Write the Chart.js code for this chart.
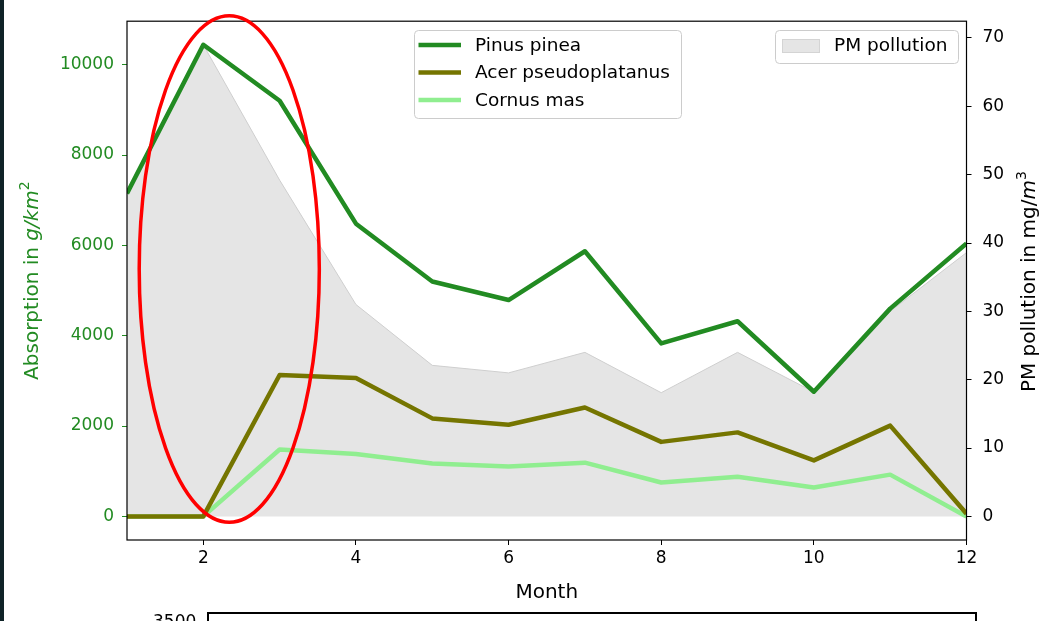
<!DOCTYPE html>
<html>
  <head>
    <meta charset="utf-8">
    <title>Absorption and PM pollution</title>
    <script src="https://cdn.jsdelivr.net/npm/chart.js@4.4.1/dist/chart.umd.min.js"></script>
    <style>
      body { margin: 0; background: #fff; overflow: hidden; font-family: 'DejaVu Sans', sans-serif; }
      #strip { position: absolute; left: 0; top: 0; width: 4px; height: 621px; background: #0f2327; }
      #wrap { position: absolute; left: 0; top: 0; width: 1056px; height: 612px; }
      #next { position: absolute; left: 207px; top: 612px; width: 770px; height: 40px; border: 2px solid #000; box-sizing: border-box; }
      #nextTick { position: absolute; left: 153px; top: 613px; font-size: 17px; line-height: 1; color: #000; }
    </style>
  </head>
  <body>
    <div id="strip"></div>
    <div id="wrap"><canvas id="chart"></canvas></div>
    <div id="nextTick">3500</div>
    <div id="next"></div>

    <script type="text/javascript">
    var months = [1, 2, 3, 4, 5, 6, 7, 8, 9, 10, 11, 12]
    var pinus_pinea = [7150, 10440, 9200, 6480, 5200, 4790, 5870, 3830, 4320, 2760, 4600, 6040]
    var acer_pseudoplatanus = [0, 0, 3130, 3065, 2170, 2030, 2410, 1650, 1860, 1240, 2010, 60]
    var cornus_mas = [0, 0, 1480, 1380, 1170, 1105, 1190, 750, 880, 640, 925, 0]
    var pm_pollution = [47.2, 69.0, 49.2, 31.0, 22.1, 21.0, 24.0, 18.1, 24.0, 18.2, 30.0, 38.6]

    var x_ticks = [2, 4, 6, 8, 10, 12]
    var absorption_ticks = [0, 2000, 4000, 6000, 8000, 10000]
    var pm_ticks = [0, 10, 20, 30, 40, 50, 60, 70]

    // red circle drawn around the February peak, in data units
    var highlight = { month: 2.34, value: 5475, monthRadius: 1.18, valueRadius: 5605 }

    var font = "'DejaVu Sans', sans-serif"
    var colors = ["#228b22", "#757500", "#90ee90", "#e5e5e5"]

    function points(values) {
      return months.map(function(m, i) { return { x: m, y: values[i] } })
    }

    // matplotlib style limits: 5% margin on each side, area fill starts at 0
    function limits(values) {
      var lo = Math.min.apply(null, values.concat([0])), hi = Math.max.apply(null, values)
      var pad = (hi - lo) * 0.05
      return [lo - pad, hi + pad]
    }
    var absLim = limits(pinus_pinea.concat(acer_pseudoplatanus, cornus_mas))
    var pmLim = limits(pm_pollution)

    function lineSet(label, data, color) {
      return {
        label: label,
        data: points(data),
        borderColor: color,
        backgroundColor: color,
        borderWidth: 4.5,
        pointRadius: 0,
        tension: 0,
        borderJoinStyle: 'round',
        yAxisID: 'y'
      }
    }

    function drawRich(ctx, parts, cx, cy, color) {
      ctx.save()
      ctx.translate(cx, cy)
      ctx.rotate(-Math.PI / 2)
      ctx.fillStyle = color
      ctx.textBaseline = 'middle'
      ctx.textAlign = 'left'
      var total = 0
      parts.forEach(function(p) {
        ctx.font = (p.italic ? 'oblique ' : '') + (p.sup ? 14 : 20) + 'px ' + font
        p.w = ctx.measureText(p.t).width
        total += p.w
      })
      var x = -total / 2
      parts.forEach(function(p) {
        ctx.font = (p.italic ? 'oblique ' : '') + (p.sup ? 14 : 20) + 'px ' + font
        ctx.fillText(p.t, x, p.sup ? -8 : 0)
        x += p.w
      })
      ctx.restore()
    }

    function roundBox(ctx, x, y, w, h, r) {
      ctx.beginPath()
      ctx.moveTo(x + r, y)
      ctx.arcTo(x + w, y, x + w, y + h, r)
      ctx.arcTo(x + w, y + h, x, y + h, r)
      ctx.arcTo(x, y + h, x, y, r)
      ctx.arcTo(x, y, x + w, y, r)
      ctx.closePath()
      ctx.fillStyle = 'rgba(255,255,255,0.8)'
      ctx.fill()
      ctx.strokeStyle = '#cccccc'
      ctx.lineWidth = 1
      ctx.stroke()
    }

    var decorations = {
      id: 'decorations',
      afterDatasetsDraw: function(chart) {
        var ctx = chart.ctx, a = chart.chartArea, ds = chart.data.datasets
        // frame
        ctx.save()
        ctx.strokeStyle = '#000'
        ctx.lineWidth = 1.2
        ctx.strokeRect(a.left, a.top, a.right - a.left, a.bottom - a.top)

        // legend of the three species
        roundBox(ctx, 414.5, 30.5, 267, 88, 4)
        ctx.font = '18.5px ' + font
        ctx.textBaseline = 'middle'
        ctx.fillStyle = '#000'
        for (var i = 0; i < 3; i++) {
          var yy = 45 + i * 27.5
          ctx.strokeStyle = ds[i].borderColor
          ctx.lineWidth = 4.5
          ctx.beginPath()
          ctx.moveTo(418.5, yy)
          ctx.lineTo(461, yy)
          ctx.stroke()
          ctx.fillText(ds[i].label, 475, yy + 1)
        }

        // legend of the pollution area
        roundBox(ctx, 775.5, 30.5, 183, 33, 4)
        ctx.fillStyle = ds[3].backgroundColor
        ctx.fillRect(782.5, 39.5, 37, 13)
        ctx.strokeStyle = '#d4d4d4'
        ctx.lineWidth = 1
        ctx.strokeRect(782.5, 39.5, 37, 13)
        ctx.fillStyle = '#000'
        ctx.fillText(ds[3].label, 834, 46)

        // axis titles with math style parts
        drawRich(ctx, [{ t: 'Absorption in ' }, { t: 'g/km', italic: true }, { t: '2', sup: true }],
          33, (a.top + a.bottom) / 2, colors[0])
        drawRich(ctx, [{ t: 'PM pollution in mg/' }, { t: 'm', italic: true }, { t: '3', sup: true }],
          1030, (a.top + a.bottom) / 2 + 1, '#000')
        ctx.restore()
      },
      afterDraw: function(chart) {
        var ctx = chart.ctx, sx = chart.scales.x, sy = chart.scales.y
        var cx = sx.getPixelForValue(highlight.month)
        var cy = sy.getPixelForValue(highlight.value)
        var rx = sx.getPixelForValue(highlight.month + highlight.monthRadius) - cx
        var ry = cy - sy.getPixelForValue(highlight.value + highlight.valueRadius)
        ctx.save()
        ctx.strokeStyle = '#ff0000'
        ctx.lineWidth = 3.5
        ctx.beginPath()
        ctx.ellipse(cx, cy, rx, ry, 0, 0, Math.PI * 2)
        ctx.stroke()
        ctx.restore()
      }
    }

    function fixTicks(list) {
      return function(scale) { scale.ticks = list.map(function(v) { return { value: v } }) }
    }

    var chart = new Chart(document.getElementById('chart'), {
      type: 'line',
      data: {
        datasets: [
          lineSet('Pinus pinea', pinus_pinea, colors[0]),
          lineSet('Acer pseudoplatanus', acer_pseudoplatanus, colors[1]),
          lineSet('Cornus mas', cornus_mas, colors[2]),
          {
            label: 'PM pollution',
            data: points(pm_pollution),
            borderColor: '#cfcfcf',
            backgroundColor: colors[3],
            borderWidth: 1,
            pointRadius: 0,
            tension: 0,
            fill: 'origin',
            yAxisID: 'y1'
          }
        ]
      },
      options: {
        responsive: true,
        maintainAspectRatio: false,
        animation: false,
        devicePixelRatio: 1,
        layout: { padding: { top: 17, left: 0, right: 0, bottom: 0 } },
        plugins: { legend: { display: false }, tooltip: { enabled: false } },
        scales: {
          x: {
            type: 'linear',
            min: 1,
            max: 12,
            afterBuildTicks: fixTicks(x_ticks),
            afterFit: function(s) { s.height = 72 },
            border: { display: false },
            grid: { drawOnChartArea: false, tickLength: 5, color: '#000' },
            ticks: { color: '#000', padding: 3, maxRotation: 0, font: { family: font, size: 17 } },
            title: { display: true, text: 'Month', color: '#000', padding: { top: 0, bottom: 7 }, font: { family: font, size: 20 } }
          },
          y: {
            position: 'left',
            min: absLim[0],
            max: absLim[1],
            afterBuildTicks: fixTicks(absorption_ticks),
            afterFit: function(s) { s.width = 127 },
            border: { display: false },
            grid: { drawOnChartArea: false, tickLength: 5, color: colors[0] },
            ticks: { color: colors[0], padding: 8, font: { family: font, size: 17 }, callback: function(v) { return String(v) } }
          },
          y1: {
            position: 'right',
            min: pmLim[0],
            max: pmLim[1],
            afterBuildTicks: fixTicks(pm_ticks),
            afterFit: function(s) { s.width = 89.5 },
            border: { display: false },
            grid: { drawOnChartArea: false, tickLength: 5, color: '#000' },
            ticks: { color: '#000', padding: 11, font: { family: font, size: 17 }, callback: function(v) { return String(v) } }
          }
        }
      },
      plugins: [decorations]
    });
    </script>
  </body>
</html>
